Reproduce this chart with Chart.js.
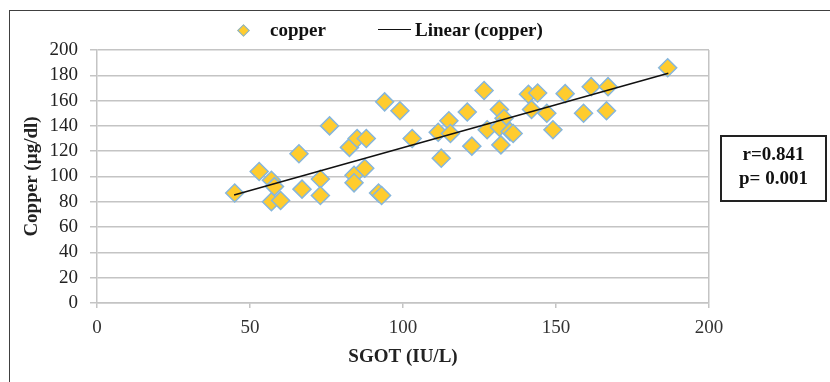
<!DOCTYPE html>
<html>
<head>
<meta charset="utf-8">
<script src="https://cdn.jsdelivr.net/npm/chart.js@4/dist/chart.umd.min.js"></script>
<style>
    html, body { margin: 0; padding: 0; background: #fff; }
    .wrap { position: relative; width: 830px; height: 382px; overflow: hidden; background: #fff; }
    .frame { position: absolute; left: 9px; top: 10px; width: 900px; height: 500px; border: 1.5px solid #404040; }
    canvas { position: absolute; left: 0; top: 0; }
    .legend { position: absolute; top: 17px; left: 0; width: 830px; height: 26px; font: bold 19px "Liberation Serif", serif; color: #111; }
    .legend span { position: absolute; top: 0; line-height: 26px; }
    .lg-diamond { position: absolute; left: 239px; top: 9px; width: 7px; height: 7px; background: #ffcc2e; border: 1px solid #7fb2dc; transform: rotate(45deg); }
    .lg-line { position: absolute; left: 378px; top: 12px; width: 33px; height: 0; border-top: 1.5px solid #111; }
    .stats { position: absolute; left: 720px; top: 135px; width: 103px; height: 58px; border: 2px solid #222;
             font: bold 19px "Liberation Serif", serif; color: #111; text-align: center; line-height: 24px; padding-top: 5px; box-sizing: content-box; }
</style>
</head>
<body>
<div class="wrap">
    <div class="frame"></div>
    <canvas id="cuChart" width="830" height="382"></canvas>
    <div class="legend">
        <div class="lg-diamond"></div>
        <span style="left:270px;">copper</span>
        <div class="lg-line"></div>
        <span style="left:415px;">Linear (copper)</span>
    </div>
    <div class="stats">r=0.841<br>p= 0.001</div>
</div>
<script>
// SGOT (IU/L) vs copper (µg/dl)
const sgot = [45, 53, 57, 58, 57, 60, 66, 67, 73, 73,
              76, 82.5, 85, 88, 84, 84, 87.5, 92, 93, 94,
              99, 103, 112.5, 111.5, 115, 115.5, 121, 122.5, 126.5, 127.5,
              131.5, 132, 133, 131.5, 135, 136, 141, 144, 142, 147,
              149, 153, 161.5, 167, 159, 166.5, 186.5];
const copper = [87, 104, 97, 92, 80, 81, 118, 90, 98, 85,
                140, 123, 130, 130, 101, 95, 106.5, 87, 85, 159,
                152, 130, 114.5, 135, 144, 134, 151, 124, 168, 137,
                153, 125, 146, 139, 135.5, 134, 165, 166, 153, 150,
                137, 165.5, 171, 171, 150, 152, 186];

// linear trendline end points
const trendX = [44.8, 186.7];
const trendY = [85.4, 181.6];

const xTicks = [0, 50, 100, 150, 200];
const yTicks = [0, 20, 40, 60, 80, 100, 120, 140, 160, 180, 200];

const GRID = '#c4c4c4';
const tickFont = { family: '"Liberation Serif", serif', size: 19 };
const titleFont = { family: '"Liberation Serif", serif', size: 19, weight: 'bold' };

const ctx = document.getElementById('cuChart').getContext('2d');
new Chart(ctx, {
    type: 'scatter',
    data: {
        datasets: [{
            label: 'copper',
            data: sgot.map((x, i) => ({ x: x, y: copper[i] })),
            pointStyle: 'rectRot',
            pointRadius: 9,
            pointHoverRadius: 9,
            backgroundColor: '#ffcc2e',
            borderColor: '#86b6dc',
            borderWidth: 1.5,
            order: 2
        }, {
            label: 'Linear (copper)',
            type: 'line',
            data: trendX.map((x, i) => ({ x: x, y: trendY[i] })),
            borderColor: '#111',
            borderWidth: 1.5,
            pointRadius: 0,
            fill: false,
            order: 1
        }]
    },
    options: {
        responsive: false,
        animation: false,
        layout: { padding: { top: 50, right: 121, left: 0, bottom: 0 } },
        plugins: {
            legend: { display: false },
            tooltip: { enabled: false }
        },
        scales: {
            x: {
                type: 'linear',
                min: 0,
                max: 200,
                afterBuildTicks: axis => { axis.ticks = xTicks.map(v => ({ value: v })); },
                afterFit: axis => { axis.height = 79; },
                ticks: { font: tickFont, color: '#333', padding: 9, autoSkip: false, maxRotation: 0 },
                grid: {
                    color: c => (c.tick && c.tick.value === 200) ? GRID : 'rgba(0,0,0,0)',
                    tickColor: GRID,
                    tickLength: 5,
                    lineWidth: 1.5
                },
                border: { display: true, color: GRID, width: 1.5 },
                title: { display: true, text: 'SGOT (IU/L)', font: titleFont, color: '#222', padding: { top: 0, bottom: 14 } }
            },
            y: {
                min: 0,
                max: 200,
                afterBuildTicks: axis => { axis.ticks = yTicks.map(v => ({ value: v })); },
                afterFit: axis => { axis.width = 97; },
                ticks: { font: tickFont, color: '#222', padding: 12, autoSkip: false },
                grid: { color: GRID, tickColor: GRID, tickLength: 7, lineWidth: 1.5 },
                border: { display: true, color: GRID, width: 1.5 },
                title: { display: true, text: 'Copper (µg/dl)', font: titleFont, color: '#222', padding: { top: 21, bottom: 0 } }
            }
        }
    }
});
</script>
</body>
</html>
